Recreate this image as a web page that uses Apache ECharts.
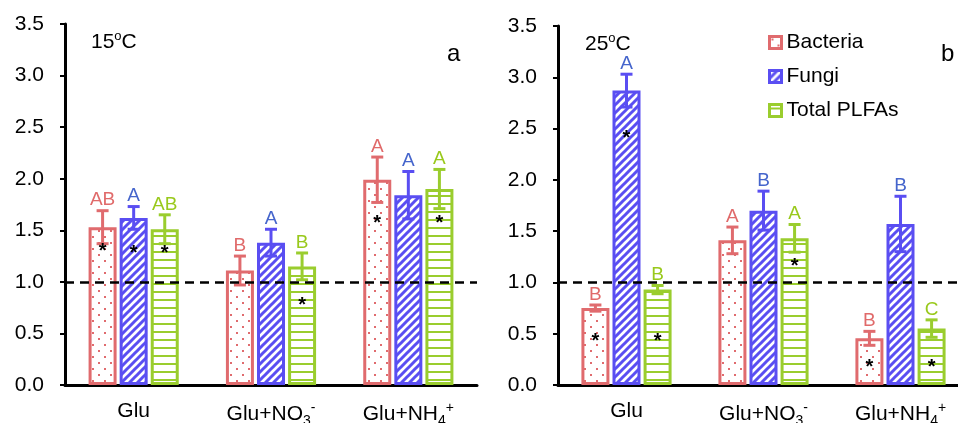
<!DOCTYPE html>
<html><head><meta charset="utf-8">
<script src="https://cdn.jsdelivr.net/npm/echarts@6/dist/echarts.min.js"></script>
<style>html,body{margin:0;padding:0;background:#fff}#c{width:958px;height:423px}</style>
</head><body><div id="c"></div>
<script>
// ---- data ----
const categories = ['Glu', 'Glu+NO{sub|3}{sup|-}', 'Glu+NH{sub|4}{sup|+}'];
const seriesNames = ['Bacteria', 'Fungi', 'Total PLFAs'];
const yTicks = [0, 0.5, 1.0, 1.5, 2.0, 2.5, 3.0, 3.5];

// 15 oC (panel a)
const bac15 = [1.53, 1.11, 1.99];
const bac15Err = [0.16, 0.14, 0.22];
const fun15 = [1.62, 1.38, 1.84];
const fun15Err = [0.11, 0.13, 0.23];
const tot15 = [1.51, 1.15, 1.90];
const tot15Err = [0.14, 0.13, 0.19];
const bac15Let = ['AB', 'B', 'A'];
const fun15Let = ['A', 'A', 'A'];
const tot15Let = ['AB', 'B', 'A'];
const bac15Star = [1.34, null, 1.61];
const fun15Star = [1.32, null, null];
const tot15Star = [1.32, 0.82, 1.61];

// 25 oC (panel b)
const bac25 = [0.75, 1.41, 0.455];
const bac25Err = [0.03, 0.13, 0.068];
const fun25 = [2.87, 1.70, 1.57];
const fun25Err = [0.16, 0.19, 0.27];
const tot25 = [0.93, 1.43, 0.55];
const tot25Err = [0.04, 0.135, 0.085];
const bac25Let = ['B', 'A', 'B'];
const fun25Let = ['A', 'B', 'B'];
const tot25Let = ['B', 'A', 'C'];
const bac25Star = [0.47, null, 0.22];
const fun25Star = [2.45, null, null];
const tot25Star = [0.47, 1.20, 0.22];

const refLine = 1.0;

// ---- styles ----
const colors = ['#e06b6e', '#5a4ef2', '#9acd2e'];
const letterColors = ['#e06a6a', '#4565cc', '#99c91c'];
const FONT = 'Liberation Sans, Arial, sans-serif';
const BW = 28, GAP = 0.11;

function tile(w, h, draw) {
  const c = document.createElement('canvas');
  c.width = w; c.height = h;
  const g = c.getContext('2d');
  g.fillStyle = '#fff'; g.fillRect(0, 0, w, h);
  draw(g);
  return c;
}
const patDots = tile(12, 12, g => {
  g.fillStyle = colors[0];
  g.fillRect(2, 2, 2, 2); g.fillRect(8, 8, 2, 2);
});
const patDiag = tile(8, 8, g => {
  g.strokeStyle = colors[1]; g.lineWidth = 3;
  g.beginPath();
  g.moveTo(-2, 10); g.lineTo(10, -2);
  g.moveTo(-2, 2); g.lineTo(2, -2);
  g.moveTo(6, 10); g.lineTo(10, 6);
  g.stroke();
});
const patHor = tile(8, 8, g => {
  g.fillStyle = colors[2];
  g.fillRect(0, 3, 8, 2);
});
const patterns = [patDots, patDiag, patHor];

const panels = [
  {vals: [bac15, fun15, tot15], errs: [bac15Err, fun15Err, tot15Err], lets: [bac15Let, fun15Let, tot15Let], stars: [bac15Star, fun15Star, tot15Star]},
  {vals: [bac25, fun25, tot25], errs: [bac25Err, fun25Err, tot25Err], lets: [bac25Let, fun25Let, tot25Let], stars: [bac25Star, fun25Star, tot25Star]}
];

const rich = {
  sub: {fontSize: 14, fontFamily: FONT, color: '#000', padding: [13, 0, 0, 0]},
  sup: {fontSize: 14, fontFamily: FONT, color: '#000', padding: [0, 0, 12, 0]}
};

const series = [];
panels.forEach((p, pi) => {
  for (let k = 0; k < 3; k++) {
    series.push({
      type: 'bar', name: seriesNames[k], xAxisIndex: pi, yAxisIndex: pi,
      data: p.vals[k], barWidth: BW, barGap: (GAP * 100) + '%',
      itemStyle: {color: {image: patterns[k], repeat: 'repeat'}, borderColor: colors[k], borderWidth: 3},
      z: 2
    });
  }
  for (let k = 0; k < 3; k++) {
    const off = (k - 1) * BW * (1 + GAP);
    const s = {
      type: 'custom', xAxisIndex: pi, yAxisIndex: pi, z: 5, silent: true,
      data: p.vals[k].map((v, i) => [i, v, p.errs[k][i]]),
      encode: {x: 0, y: 1},
      renderItem: (params, api) => {
        const i = api.value(0), v = api.value(1), e = api.value(2);
        const x = api.coord([i, v])[0] + off;
        const yt = api.coord([i, v + e])[1];
        const yb = api.coord([i, v - e])[1];
        const st = {stroke: colors[k], lineWidth: 3};
        const ch = [
          {type: 'line', shape: {x1: x, y1: yt, x2: x, y2: yb}, style: st},
          {type: 'line', shape: {x1: x - 6, y1: yt, x2: x + 6, y2: yt}, style: st},
          {type: 'line', shape: {x1: x - 6, y1: yb, x2: x + 6, y2: yb}, style: st},
          {type: 'text', x: x, y: yt - 1, style: {text: p.lets[k][params.dataIndex], fill: letterColors[k], font: '19px ' + FONT, align: 'center', verticalAlign: 'bottom'}}
        ];
        const sv = p.stars[k][params.dataIndex];
        if (sv != null) {
          const ys = api.coord([i, sv])[1];
          ch.push({type: 'text', x: x, y: ys + 5, style: {text: '*', fill: '#000', font: 'bold 20px ' + FONT, align: 'center', verticalAlign: 'middle'}});
        }
        return {type: 'group', children: ch};
      }
    };
    if (k === 2) {
      s.markLine = {
        silent: true, symbol: 'none', label: {show: false}, z: 10,
        lineStyle: {color: '#000', width: 2.5, type: [9, 6]},
        data: [{yAxis: refLine}]
      };
    }
    series.push(s);
  }
});

const yAxisBase = (gi) => ({
  type: 'value', gridIndex: gi, min: yTicks[0], max: yTicks[yTicks.length - 1], interval: 0.5,
  axisLine: {show: true, lineStyle: {color: '#000', width: 3}},
  axisTick: {show: true, inside: false, length: 5, lineStyle: {color: '#000', width: 2}},
  splitLine: {show: false},
  axisLabel: {margin: 21, color: '#000', fontSize: 21, fontFamily: FONT, formatter: v => v.toFixed(1)}
});
const xAxisBase = (gi) => ({
  type: 'category', gridIndex: gi, data: categories,
  axisLine: {lineStyle: {color: '#000', width: 3}},
  axisTick: {show: false},
  axisLabel: {margin: 16, color: '#000', fontSize: 21, fontFamily: FONT, rich: rich, interval: 0}
});

const option = {
  animation: false,
  backgroundColor: '#fff',
  grid: [
    {left: 65, width: 412, top: 24, bottom: 38, containLabel: false, outerBoundsMode: 'none'},
    {left: 558, width: 411, top: 26, bottom: 38, containLabel: false, outerBoundsMode: 'none'}
  ],
  xAxis: [xAxisBase(0), xAxisBase(1)],
  yAxis: [yAxisBase(0), yAxisBase(1)],
  legend: {
    orient: 'vertical', left: 763, top: 27, itemGap: 13, itemWidth: 12, itemHeight: 12,
    textStyle: {fontSize: 21, fontFamily: FONT, color: '#000'},
    data: seriesNames.map((n, k) => ({name: n, icon: 'rect', itemStyle: {color: {image: patterns[k], repeat: 'repeat'}, borderColor: colors[k], borderWidth: 3}}))
  },
  title: [
    {text: '15{sup|o}C', left: 86, top: 25, textStyle: {fontSize: 21, fontWeight: 'normal', fontFamily: FONT, color: '#000', rich: {sup: {fontSize: 13, fontFamily: FONT, padding: [0, 0, 11, 0]}}}},
    {text: '25{sup|o}C', left: 580, top: 27, textStyle: {fontSize: 21, fontWeight: 'normal', fontFamily: FONT, color: '#000', rich: {sup: {fontSize: 13, fontFamily: FONT, padding: [0, 0, 11, 0]}}}},
    {text: 'a', left: 442, top: 37, textStyle: {fontSize: 24, fontWeight: 'normal', fontFamily: FONT, color: '#000'}},
    {text: 'b', left: 936, top: 37, textStyle: {fontSize: 24, fontWeight: 'normal', fontFamily: FONT, color: '#000'}}
  ],
  series: series
};
const chart = echarts.init(document.getElementById('c'));
chart.setOption(option);
</script></body></html>
